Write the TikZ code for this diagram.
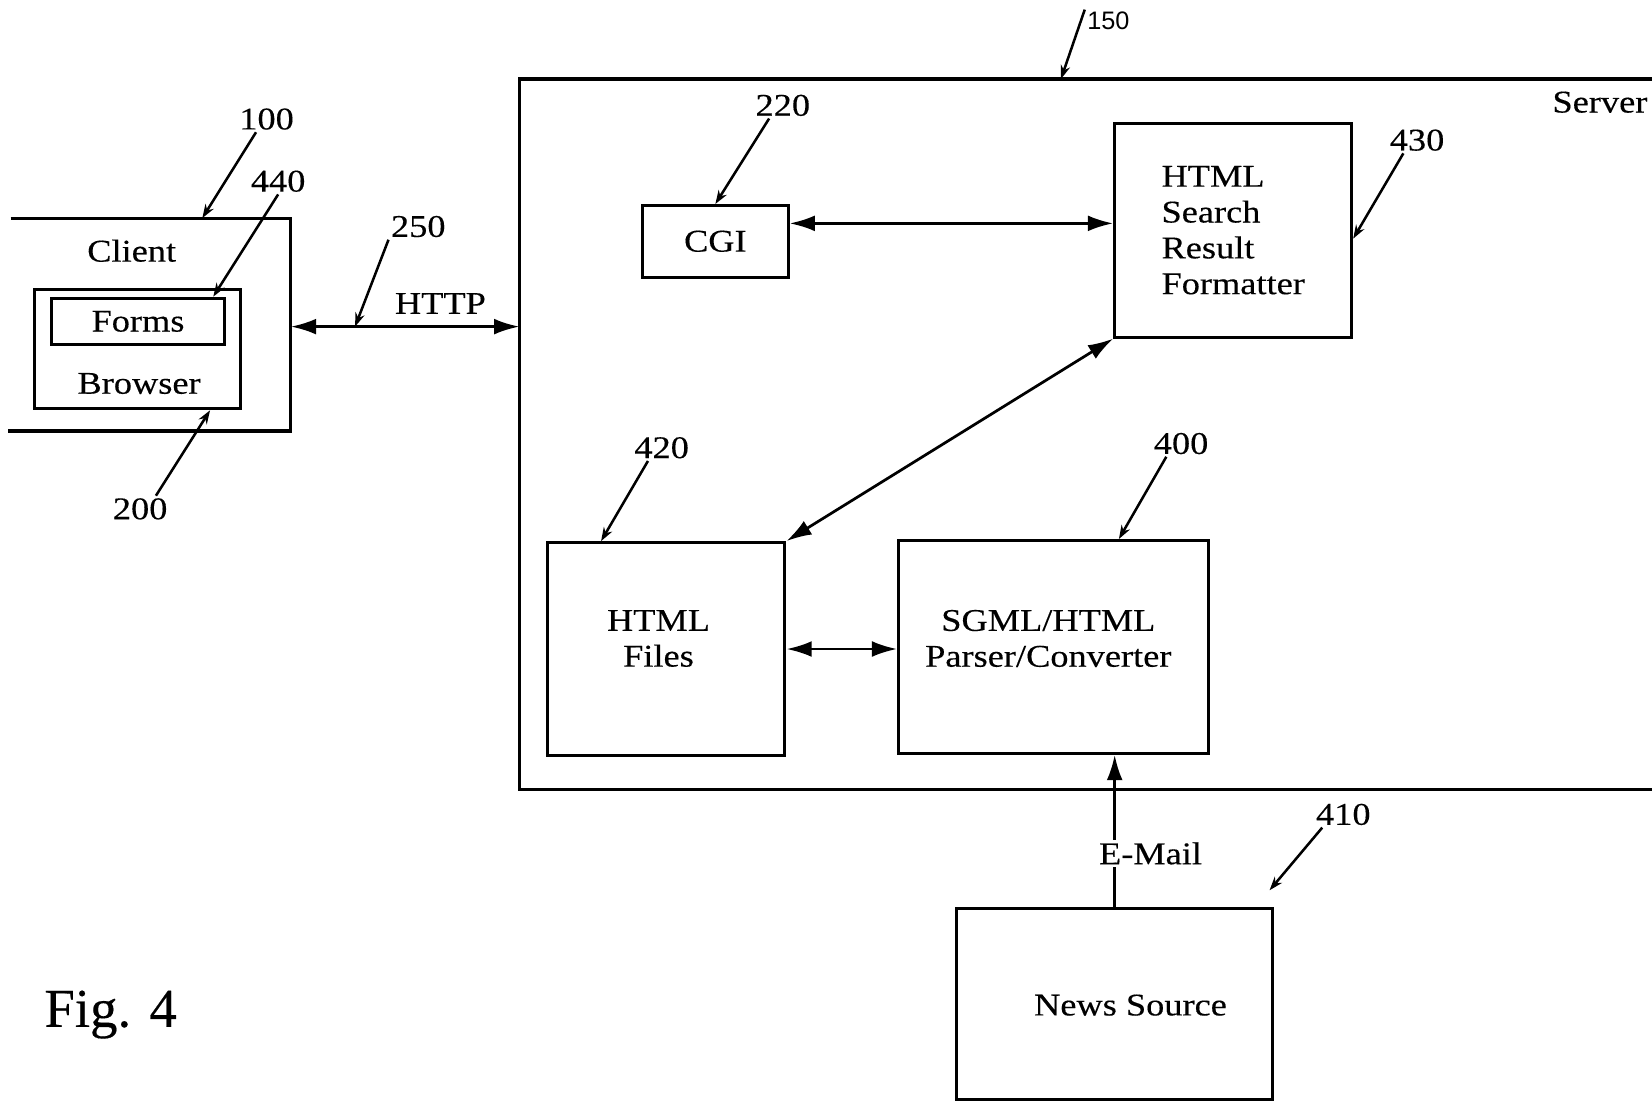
\documentclass[tikz,border=0pt]{standalone}
\usepackage{fontspec}
\setmainfont{Liberation Serif}[FakeStretch=1.15, FakeBold=0.3]
\newfontfamily\figfont{Liberation Serif}[FakeBold=0.3]
\newfontfamily\numfont{Liberation Sans}
\usetikzlibrary{arrows.meta}

\tikzset{
  box/.style={draw, line width=1.4pt, inner sep=0pt},
  txt/.style={font=\fontsize{15}{17}\selectfont, align=center, inner sep=1pt},
  num/.style={font=\fontsize{15}{17}\selectfont, inner sep=1pt},
  dbl/.style={{Latex[length=12pt,width=7.5pt]}-{Latex[length=12pt,width=7.5pt]}, line width=1.3pt},
  sgl/.style={-{Latex[length=12pt,width=7.5pt]}, line width=1.3pt},
  lead/.style={-{Stealth[length=6.5pt,width=4.5pt]}, line width=1.2pt},
}

\begin{document}
\begin{tikzpicture}[x=0.5pt, y=-0.5pt]
    \useasboundingbox (0,0) rectangle (1568,1046);

    % client side
    \draw[line width=1.5pt] (10,207) -- (276,207) -- (276,409) -- (8,409);
    \node[txt] (client) at (125,238) {Client};
    \node[box, minimum width=97.5pt, minimum height=56.5pt] (browser) at (130.5,331.5) {};
    \node[box, txt, inner sep=0pt, minimum width=82pt, minimum height=22pt] (forms) at (131,305) {Forms};
    \node[txt] (browsertxt) at (132,364) {Browser};

    % server side
    \draw[line width=1.5pt] (1568,75) -- (493,75) -- (493,749) -- (1568,749);
    \node[txt, anchor=east] (server) at (1566,97) {Server};

    % HTTP link
    \coordinate (cliente) at (276,310);
    \coordinate (serverw) at (493,310);
    \coordinate (httptap) at (337,310);
    \draw[dbl] (cliente) -- (serverw);
    \node[txt] (http) at (418,288) {HTTP};

    % blocks inside the server
    \node[box, txt, inner sep=0pt, minimum width=69pt, minimum height=34pt] (cgi) at (679,229) {CGI};
    \node[box, txt, inner sep=0pt, align=left, minimum width=112.5pt, minimum height=101.5pt] (fmt) at (1170.5,218.5) {HTML\\Search\\Result\\Formatter};
    \node[box, minimum width=112.5pt, minimum height=101pt] (files) at (632.5,616) {};
    \node[txt] (filestxt) at (625,606) {HTML\\Files};
    \node[box, minimum width=147pt, minimum height=101pt] (sgml) at (1000,614) {};
    \node[txt] (sgmltxt) at (995,606) {SGML/HTML\\Parser/Converter};

    % news source
    \node[box, minimum width=150pt, minimum height=91pt] (news) at (1058,953) {};
    \node[txt] (newstxt) at (1073,954) {News Source};

    % connections
    \draw[dbl] ([yshift=8.5pt]cgi.east) -- ([yshift=8.5pt]cgi.east -| fmt.west);
    \draw[dbl] (files.north east) -- (fmt.south west);
    \draw[dbl] (files.east) -- (files.east -| sgml.west);
    \draw[sgl] (news.north) -- (news.north |- sgml.south);
    \node[txt, fill=white] (email) at (1092,810) {E-Mail};

    % reference numerals
    \node[num] (n100) at (253,113) {100};
    \coordinate (clientn) at (192,207);
    \draw[lead] ([xshift=-5pt]n100.south) -- (clientn);

    \node[num] (n440) at (264,172) {440};
    \draw[lead] (n440.south) -- ([xshift=-6pt]forms.north east);

    \node[num] (n250) at (397,215) {250};
    \draw[lead] (n250.south west) -- (httptap);

    \node[num] (n200) at (133,483) {200};
    \draw[lead] ([xshift=7.5pt]n200.north) -- ([xshift=-15pt]browser.south east);

    \node[font=\numfont\fontsize{12}{14}\selectfont, inner sep=1pt] (n150) at (1052,20) {150};
    \coordinate (servern) at (1007,75);
    \draw[lead] (n150.north west) -- (servern);

    \node[num] (n220) at (743,100) {220};
    \draw[lead] ([xshift=-6.5pt]n220.south) -- (cgi.north);

    \node[num] (n430) at (1345,133) {430};
    \draw[lead] ([xshift=-6.5pt]n430.south) -- ([yshift=-4pt]fmt.east);

    \node[num] (n420) at (628,425) {420};
    \draw[lead] ([xshift=-6.5pt]n420.south) -- ([xshift=-31pt]files.north);

    \node[num] (n400) at (1121,421) {400};
    \draw[lead] ([xshift=-7pt]n400.south) -- ([xshift=31pt]sgml.north);

    \node[num] (n410) at (1275,773) {410};
    \coordinate (newstag) at (1205,845);
    \draw[lead] ([xshift=-10pt]n410.south) -- (newstag);

    % figure number
    \node[font=\figfont\fontsize{26}{30}\selectfont] (fig) at (105,963) {Fig. 4};
\end{tikzpicture}
\end{document}
